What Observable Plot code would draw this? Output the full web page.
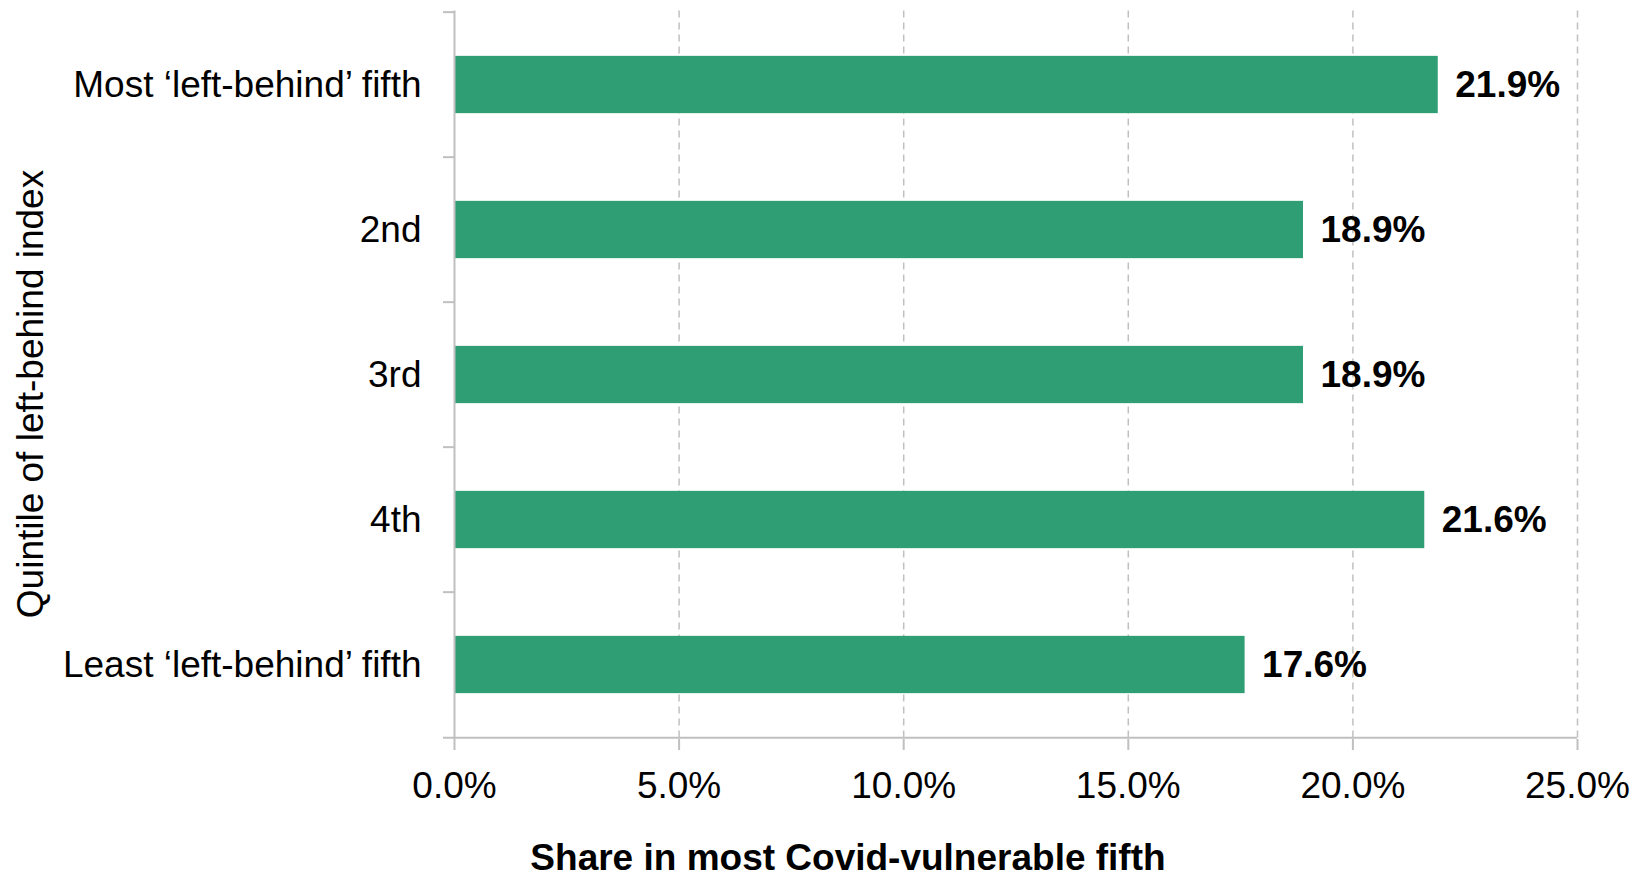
<!DOCTYPE html>
<html>
<head>
<meta charset="utf-8">
<script src="https://cdn.jsdelivr.net/npm/d3@7"></script>
<script src="https://cdn.jsdelivr.net/npm/@observablehq/plot@0.6"></script>
<style>
  html, body { margin: 0; padding: 0; background: #fff; }
  #chart { width: 1644px; height: 879px; overflow: hidden; }
  svg { display: block; overflow: visible; }
</style>
</head>
<body>
<div id="chart"></div>
<script>
const categories = ["Most \u2018left-behind\u2019 fifth", "2nd", "3rd", "4th", "Least \u2018left-behind\u2019 fifth"];
const values = [21.9, 18.9, 18.9, 21.6, 17.6];
const xTicks = [0, 5, 10, 15, 20, 25];
const xTitle = "Share in most Covid-vulnerable fifth";
const yTitle = "Quintile of left-behind index";

const data = categories.map((c, i) => ({category: c, value: values[i]}));

const W = 1644, H = 879;
const mT = 10.5, mB = 140, mL = 454, mR = 67;
const step = (H - mT - mB) / categories.length;
const barH = 58;
const inset = (step - barH) / 2;
const gray = "#c0c0c0";
const font = "'Liberation Sans', Arial, sans-serif";
const fmt = d => d.toFixed(1) + "%";
const tickLenX = 11 / ((W - mL - mR) / 25);

const chart = Plot.plot({
  width: W,
  height: H,
  marginTop: mT,
  marginBottom: mB,
  marginLeft: mL,
  marginRight: mR,
  style: {fontFamily: font, fontSize: "37px", color: "#000", background: "#fff", overflow: "visible"},
  x: {domain: [0, 25]},
  y: {domain: categories, padding: 0},
  marks: [
    Plot.ruleX(xTicks.slice(1), {stroke: gray, strokeWidth: 1.5, strokeDasharray: "7,5"}),
    Plot.barX(data, {x: "value", y: "category", fill: "#2f9e75", insetTop: inset, insetBottom: inset}),
    Plot.text(data, {x: "value", y: "category", text: d => fmt(d.value), textAnchor: "start", dx: 17, fontWeight: "bold", fontSize: 37, fill: "#000"}),
    Plot.ruleX([0], {stroke: gray, strokeWidth: 2}),
    Plot.ruleY(categories, {x1: -tickLenX, x2: 0, dy: -step / 2, stroke: gray, strokeWidth: 2}),
    Plot.ruleY([categories[categories.length - 1]], {x1: -tickLenX, x2: 25, dy: step / 2, stroke: gray, strokeWidth: 2}),
    Plot.axisX({ticks: xTicks, tickFormat: fmt, tickSize: 11, tickPadding: 21, stroke: gray, strokeWidth: 2, fill: "#000", fontSize: 37, label: null}),
    Plot.axisY({tickSize: 0, tickPadding: 33, fill: "#000", fontSize: 37, label: null})
  ]
});

document.getElementById("chart").appendChild(chart);

const svg = d3.select(chart);
svg.append("text")
  .attr("x", 848)
  .attr("y", 870)
  .attr("text-anchor", "middle")
  .attr("font-family", font)
  .attr("font-size", 37)
  .attr("font-weight", "bold")
  .attr("fill", "#000")
  .text(xTitle);
svg.append("text")
  .attr("transform", "translate(43,394) rotate(-90)")
  .attr("text-anchor", "middle")
  .attr("font-family", font)
  .attr("font-size", 37)
  .attr("fill", "#000")
  .text(yTitle);
</script>
</body>
</html>
